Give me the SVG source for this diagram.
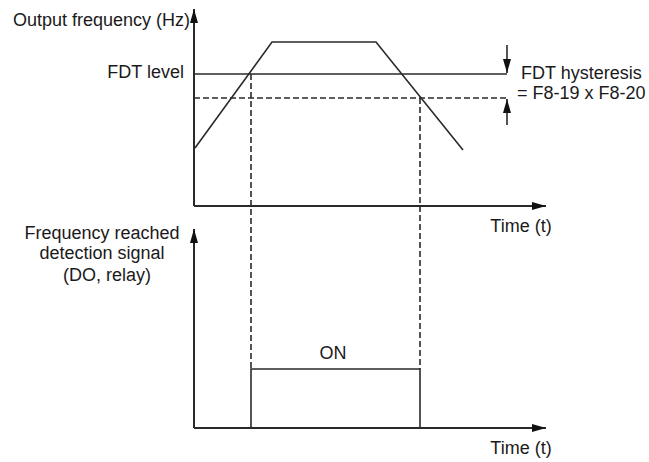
<svg xmlns="http://www.w3.org/2000/svg" width="649" height="462" viewBox="0 0 649 462">
<defs>
<marker id="ah" viewBox="0 0 14 8" refX="14" refY="4" markerWidth="14" markerHeight="8" markerUnits="userSpaceOnUse" orient="auto">
<path d="M0,0 L14,4 L0,8 Z" fill="#111"/>
</marker>
</defs>
<style>
.ln{stroke:#2a2a2a;stroke-width:1.6;fill:none}
.ax{stroke:#2a2a2a;stroke-width:2;fill:none}
.ds{stroke:#2a2a2a;stroke-width:1.6;fill:none;stroke-dasharray:6 3}
.t{font-family:"Liberation Sans",Arial,sans-serif;font-size:18px;fill:#1a1a1a}
</style>
<rect width="649" height="462" fill="#fff"/>
<g id="top-chart">
<g id="top-axes">
<path class="ax" d="M194,206 L194,9" marker-end="url(#ah)"/>
<path class="ax" d="M194,206 L546,206" marker-end="url(#ah)"/>
</g>
<g id="levels">
<path class="ln" d="M194,74 L507,74"/>
<path class="ds" d="M194,98 L507,98"/>
</g>
<g id="frequency-curve">
<path class="ln" d="M195,148 L272,42 L376,42 L463,150"/>
</g>
<g id="hysteresis-arrows">
<path class="ln" d="M507,45 L507,73" marker-end="url(#ah)"/>
<path class="ln" d="M507,125 L507,99" marker-end="url(#ah)"/>
</g>
</g>
<g id="connectors">
<path class="ds" d="M251,74 L251,369"/>
<path class="ds" d="M420,98 L420,369"/>
</g>
<g id="bottom-chart">
<path class="ax" d="M194,428 L194,229" marker-end="url(#ah)"/>
<path class="ax" d="M194,428 L546,428" marker-end="url(#ah)"/>
<path class="ln" d="M251,428 L251,369 L420,369 L420,428"/>
</g>
<g id="labels">
<text class="t" x="190" y="26" text-anchor="end">Output frequency (Hz)</text>
<text class="t" x="184" y="78" text-anchor="end">FDT level</text>
<text class="t" x="521" y="79">FDT hysteresis</text>
<text class="t" x="517" y="99">= F8-19 x F8-20</text>
<text class="t" x="521" y="232" text-anchor="middle">Time (t)</text>
<text class="t" x="102" y="239" text-anchor="middle">Frequency reached</text>
<text class="t" x="102" y="259" text-anchor="middle">detection signal</text>
<text class="t" x="107" y="281" text-anchor="middle">(DO, relay)</text>
<text class="t" x="333" y="359" text-anchor="middle">ON</text>
<text class="t" x="521" y="454" text-anchor="middle">Time (t)</text>
</g>
</svg>
